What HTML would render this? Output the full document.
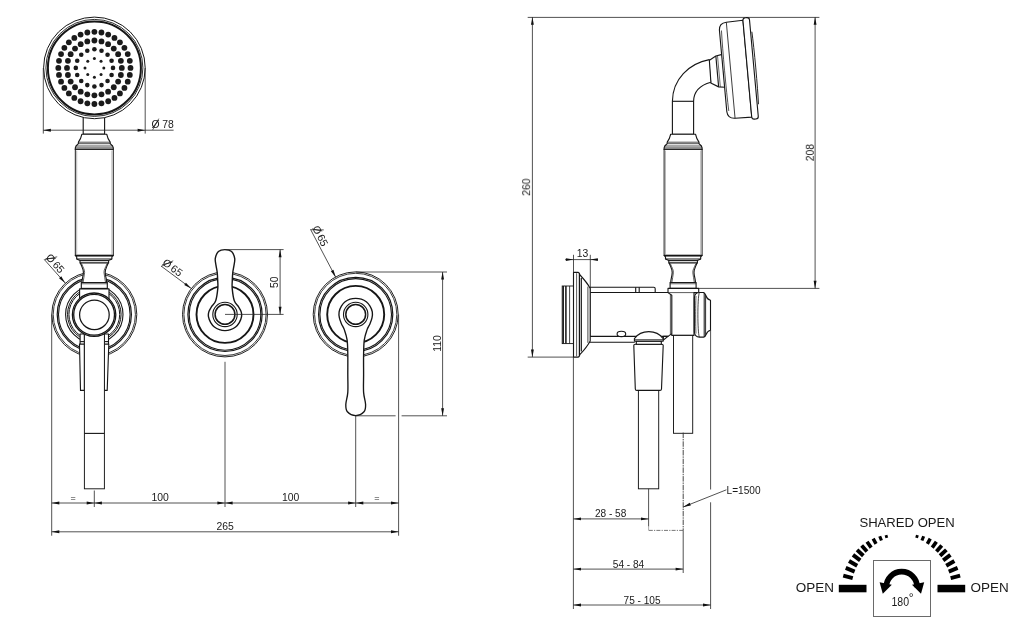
<!DOCTYPE html>
<html><head><meta charset="utf-8"><title>Shower set dimensions</title>
<style>
html,body{margin:0;padding:0;background:#fff;}
body{width:1024px;height:625px;overflow:hidden;}
svg{display:block;}
svg text{font-family:"Liberation Sans",Arial,sans-serif;fill:#1a1a1a;}
</style></head><body>
<svg width="1024" height="625" viewBox="0 0 1024 625">
<defs><filter id="gs" x="0" y="0" width="1024" height="625" filterUnits="userSpaceOnUse"><feColorMatrix type="saturate" values="0"/></filter></defs>
<rect width="1024" height="625" fill="#fff"/>
<circle cx="94.30" cy="314.40" r="42.50" fill="#fff" stroke="#161616" stroke-width="0.95"/>
<circle cx="94.30" cy="314.40" r="41.10" fill="none" stroke="#161616" stroke-width="0.85"/>
<circle cx="94.30" cy="314.40" r="37.10" fill="none" stroke="#161616" stroke-width="1.2"/>
<circle cx="94.30" cy="314.40" r="35.80" fill="none" stroke="#161616" stroke-width="1.1"/>
<circle cx="94.30" cy="314.40" r="28.70" fill="none" stroke="#161616" stroke-width="1.1"/>
<circle cx="94.30" cy="314.40" r="26.80" fill="none" stroke="#161616" stroke-width="1.0"/>
<circle cx="94.30" cy="314.40" r="25.40" fill="none" stroke="#161616" stroke-width="1.0"/>
<circle cx="225.00" cy="314.40" r="42.50" fill="#fff" stroke="#161616" stroke-width="0.95"/>
<circle cx="225.00" cy="314.40" r="41.10" fill="none" stroke="#161616" stroke-width="0.85"/>
<circle cx="225.00" cy="314.40" r="37.10" fill="none" stroke="#161616" stroke-width="1.2"/>
<circle cx="225.00" cy="314.40" r="35.80" fill="none" stroke="#161616" stroke-width="1.1"/>
<circle cx="225.00" cy="314.40" r="28.50" fill="none" stroke="#161616" stroke-width="1.9"/>
<circle cx="355.70" cy="314.40" r="42.50" fill="#fff" stroke="#161616" stroke-width="0.95"/>
<circle cx="355.70" cy="314.40" r="41.10" fill="none" stroke="#161616" stroke-width="0.85"/>
<circle cx="355.70" cy="314.40" r="37.10" fill="none" stroke="#161616" stroke-width="1.2"/>
<circle cx="355.70" cy="314.40" r="35.80" fill="none" stroke="#161616" stroke-width="1.1"/>
<circle cx="355.70" cy="314.40" r="28.50" fill="none" stroke="#161616" stroke-width="1.9"/>
<rect x="83.2" y="112" width="21.4" height="22.2" fill="#fff" stroke="#161616" stroke-width="1.12"/>
<circle cx="94.40" cy="67.90" r="50.80" fill="#fff" stroke="#161616" stroke-width="1.0"/>
<circle cx="94.40" cy="67.90" r="48.50" fill="none" stroke="#161616" stroke-width="0.9"/>
<circle cx="94.40" cy="67.90" r="46.50" fill="none" stroke="#161616" stroke-width="2.0"/>
<circle cx="94.40" cy="31.80" r="2.9" fill="#1b1b1b"/>
<circle cx="101.44" cy="32.49" r="2.9" fill="#1b1b1b"/>
<circle cx="108.21" cy="34.55" r="2.9" fill="#1b1b1b"/>
<circle cx="114.46" cy="37.88" r="2.9" fill="#1b1b1b"/>
<circle cx="119.93" cy="42.37" r="2.9" fill="#1b1b1b"/>
<circle cx="124.42" cy="47.84" r="2.9" fill="#1b1b1b"/>
<circle cx="127.75" cy="54.09" r="2.9" fill="#1b1b1b"/>
<circle cx="129.81" cy="60.86" r="2.9" fill="#1b1b1b"/>
<circle cx="130.50" cy="67.90" r="2.9" fill="#1b1b1b"/>
<circle cx="129.81" cy="74.94" r="2.9" fill="#1b1b1b"/>
<circle cx="127.75" cy="81.71" r="2.9" fill="#1b1b1b"/>
<circle cx="124.42" cy="87.96" r="2.9" fill="#1b1b1b"/>
<circle cx="119.93" cy="93.43" r="2.9" fill="#1b1b1b"/>
<circle cx="114.46" cy="97.92" r="2.9" fill="#1b1b1b"/>
<circle cx="108.21" cy="101.25" r="2.9" fill="#1b1b1b"/>
<circle cx="101.44" cy="103.31" r="2.9" fill="#1b1b1b"/>
<circle cx="94.40" cy="104.00" r="2.9" fill="#1b1b1b"/>
<circle cx="87.36" cy="103.31" r="2.9" fill="#1b1b1b"/>
<circle cx="80.59" cy="101.25" r="2.9" fill="#1b1b1b"/>
<circle cx="74.34" cy="97.92" r="2.9" fill="#1b1b1b"/>
<circle cx="68.87" cy="93.43" r="2.9" fill="#1b1b1b"/>
<circle cx="64.38" cy="87.96" r="2.9" fill="#1b1b1b"/>
<circle cx="61.05" cy="81.71" r="2.9" fill="#1b1b1b"/>
<circle cx="58.99" cy="74.94" r="2.9" fill="#1b1b1b"/>
<circle cx="58.30" cy="67.90" r="2.9" fill="#1b1b1b"/>
<circle cx="58.99" cy="60.86" r="2.9" fill="#1b1b1b"/>
<circle cx="61.05" cy="54.09" r="2.9" fill="#1b1b1b"/>
<circle cx="64.38" cy="47.84" r="2.9" fill="#1b1b1b"/>
<circle cx="68.87" cy="42.37" r="2.9" fill="#1b1b1b"/>
<circle cx="74.34" cy="37.88" r="2.9" fill="#1b1b1b"/>
<circle cx="80.59" cy="34.55" r="2.9" fill="#1b1b1b"/>
<circle cx="87.36" cy="32.49" r="2.9" fill="#1b1b1b"/>
<circle cx="94.40" cy="40.50" r="2.9" fill="#1b1b1b"/>
<circle cx="101.49" cy="41.43" r="2.9" fill="#1b1b1b"/>
<circle cx="108.10" cy="44.17" r="2.9" fill="#1b1b1b"/>
<circle cx="113.77" cy="48.53" r="2.9" fill="#1b1b1b"/>
<circle cx="118.13" cy="54.20" r="2.9" fill="#1b1b1b"/>
<circle cx="120.87" cy="60.81" r="2.9" fill="#1b1b1b"/>
<circle cx="121.80" cy="67.90" r="2.9" fill="#1b1b1b"/>
<circle cx="120.87" cy="74.99" r="2.9" fill="#1b1b1b"/>
<circle cx="118.13" cy="81.60" r="2.9" fill="#1b1b1b"/>
<circle cx="113.77" cy="87.27" r="2.9" fill="#1b1b1b"/>
<circle cx="108.10" cy="91.63" r="2.9" fill="#1b1b1b"/>
<circle cx="101.49" cy="94.37" r="2.9" fill="#1b1b1b"/>
<circle cx="94.40" cy="95.30" r="2.9" fill="#1b1b1b"/>
<circle cx="87.31" cy="94.37" r="2.9" fill="#1b1b1b"/>
<circle cx="80.70" cy="91.63" r="2.9" fill="#1b1b1b"/>
<circle cx="75.03" cy="87.27" r="2.9" fill="#1b1b1b"/>
<circle cx="70.67" cy="81.60" r="2.9" fill="#1b1b1b"/>
<circle cx="67.93" cy="74.99" r="2.9" fill="#1b1b1b"/>
<circle cx="67.00" cy="67.90" r="2.9" fill="#1b1b1b"/>
<circle cx="67.93" cy="60.81" r="2.9" fill="#1b1b1b"/>
<circle cx="70.67" cy="54.20" r="2.9" fill="#1b1b1b"/>
<circle cx="75.03" cy="48.53" r="2.9" fill="#1b1b1b"/>
<circle cx="80.70" cy="44.17" r="2.9" fill="#1b1b1b"/>
<circle cx="87.31" cy="41.43" r="2.9" fill="#1b1b1b"/>
<circle cx="94.40" cy="49.30" r="2.3" fill="#1b1b1b"/>
<circle cx="101.52" cy="50.72" r="2.3" fill="#1b1b1b"/>
<circle cx="107.55" cy="54.75" r="2.3" fill="#1b1b1b"/>
<circle cx="111.58" cy="60.78" r="2.3" fill="#1b1b1b"/>
<circle cx="113.00" cy="67.90" r="2.3" fill="#1b1b1b"/>
<circle cx="111.58" cy="75.02" r="2.3" fill="#1b1b1b"/>
<circle cx="107.55" cy="81.05" r="2.3" fill="#1b1b1b"/>
<circle cx="101.52" cy="85.08" r="2.3" fill="#1b1b1b"/>
<circle cx="94.40" cy="86.50" r="2.3" fill="#1b1b1b"/>
<circle cx="87.28" cy="85.08" r="2.3" fill="#1b1b1b"/>
<circle cx="81.25" cy="81.05" r="2.3" fill="#1b1b1b"/>
<circle cx="77.22" cy="75.02" r="2.3" fill="#1b1b1b"/>
<circle cx="75.80" cy="67.90" r="2.3" fill="#1b1b1b"/>
<circle cx="77.22" cy="60.78" r="2.3" fill="#1b1b1b"/>
<circle cx="81.25" cy="54.75" r="2.3" fill="#1b1b1b"/>
<circle cx="87.28" cy="50.72" r="2.3" fill="#1b1b1b"/>
<circle cx="94.40" cy="58.50" r="1.5" fill="#1b1b1b"/>
<circle cx="101.05" cy="61.25" r="1.5" fill="#1b1b1b"/>
<circle cx="103.80" cy="67.90" r="1.5" fill="#1b1b1b"/>
<circle cx="101.05" cy="74.55" r="1.5" fill="#1b1b1b"/>
<circle cx="94.40" cy="77.30" r="1.5" fill="#1b1b1b"/>
<circle cx="87.75" cy="74.55" r="1.5" fill="#1b1b1b"/>
<circle cx="85.00" cy="67.90" r="1.5" fill="#1b1b1b"/>
<circle cx="87.75" cy="61.25" r="1.5" fill="#1b1b1b"/>
<path d="M81.90,134.2 L106.70,134.2 C107.50,138 108.80,140.5 110.20,142.2 L110.20,143.6 L112.60,146 L113.30,147.9 L113.30,149.4 L75.30,149.4 L75.30,147.9 L76.00,146 L78.40,143.6 L78.40,142.2 C79.80,140.5 81.10,138 81.90,134.2 Z" fill="#fff" stroke="#161616" stroke-width="1.12" stroke-linejoin="round" stroke-linecap="round" />
<line x1="78.40" y1="142.20" x2="110.20" y2="142.20" stroke="#161616" stroke-width="0.75" />
<line x1="78.40" y1="143.70" x2="110.20" y2="143.70" stroke="#161616" stroke-width="0.75" />
<line x1="76.00" y1="146.00" x2="112.60" y2="146.00" stroke="#161616" stroke-width="0.75" />
<line x1="75.30" y1="147.90" x2="113.30" y2="147.90" stroke="#161616" stroke-width="0.75" />
<rect x="75.30" y="149.4" width="38.0" height="106" fill="#fff" stroke="#161616" stroke-width="0.95"/>
<line x1="76.70" y1="150.50" x2="76.70" y2="254.50" stroke="#8a8a8a" stroke-width="0.6" />
<line x1="111.90" y1="150.50" x2="111.90" y2="254.50" stroke="#8a8a8a" stroke-width="0.6" />
<path d="M75.30,255.40 L113.30,255.40 L111.90,256.60 L111.90,259.00 L108.60,260.60 L108.60,263.00 L80.00,263.00 L80.00,260.60 L76.70,259.00 L76.70,256.60 Z" fill="#fff" stroke="#161616" stroke-width="1.12" stroke-linejoin="round" stroke-linecap="round" />
<line x1="75.30" y1="256.30" x2="113.30" y2="256.30" stroke="#161616" stroke-width="0.7" />
<line x1="76.70" y1="259.00" x2="111.90" y2="259.00" stroke="#161616" stroke-width="1.12" />
<line x1="80.00" y1="260.60" x2="108.60" y2="260.60" stroke="#161616" stroke-width="1.12" />
<path d="M80.40,263 C81.80,267 83.50,269 83.40,272.5 C83.30,276 82.00,279 81.90,282.6 L106.70,282.6 C106.60,279 105.30,276 105.20,272.5 C105.10,269 106.80,267 108.20,263 Z" fill="#fff" stroke="#161616" stroke-width="1.12" stroke-linejoin="round" stroke-linecap="round" />
<path d="M81.70,264 C83.00,267.5 84.70,269.5 84.60,272.5 C84.50,276 83.30,279 83.10,282" fill="none" stroke="#161616" stroke-width="0.7" stroke-linejoin="round" stroke-linecap="round" />
<path d="M106.90,264 C105.60,267.5 103.90,269.5 104.00,272.5 C104.10,276 105.30,279 105.50,282" fill="none" stroke="#161616" stroke-width="0.7" stroke-linejoin="round" stroke-linecap="round" />
<rect x="81.30" y="282.6" width="26" height="5.8" fill="#fff" stroke="#161616" stroke-width="1.12"/>
<line x1="81.30" y1="283.80" x2="107.30" y2="283.80" stroke="#161616" stroke-width="0.6" />
<path d="M79.60,288.90 L109.00,288.90 L109.00,330.00 L79.60,330.00 Z" fill="#fff" stroke="#161616" stroke-width="1.12" stroke-linejoin="round" stroke-linecap="round" />
<path d="M79.50,344.00 L84.40,344.00 L84.40,390.40 L80.50,390.40 Z" fill="#fff" stroke="#161616" stroke-width="1.12" stroke-linejoin="round" stroke-linecap="round" />
<path d="M108.80,344.00 L104.40,344.00 L104.40,390.40 L107.20,390.40 Z" fill="#fff" stroke="#161616" stroke-width="1.12" stroke-linejoin="round" stroke-linecap="round" />
<path d="M80.10,334.00 L84.40,334.00 L84.40,344.00 L80.10,344.00 Z" fill="#fff" stroke="#161616" stroke-width="1.12" stroke-linejoin="round" stroke-linecap="round" />
<path d="M108.50,334.00 L104.40,334.00 L104.40,344.00 L108.50,344.00 Z" fill="#fff" stroke="#161616" stroke-width="1.12" stroke-linejoin="round" stroke-linecap="round" />
<line x1="80.10" y1="341.60" x2="84.40" y2="341.60" stroke="#161616" stroke-width="1.12" />
<line x1="108.50" y1="341.60" x2="104.40" y2="341.60" stroke="#161616" stroke-width="1.12" />
<rect x="84.40" y="325" width="20.0" height="163.8" fill="#fff" stroke="#161616" stroke-width="0.95"/>
<line x1="84.40" y1="433.40" x2="104.40" y2="433.40" stroke="#161616" stroke-width="1.12" />
<circle cx="94.10" cy="314.70" r="21.70" fill="#fff" stroke="#161616" stroke-width="1.3"/>
<circle cx="94.10" cy="314.70" r="20.40" fill="none" stroke="#161616" stroke-width="1.3"/>
<circle cx="94.40" cy="314.80" r="14.80" fill="none" stroke="#161616" stroke-width="1.25"/>
<path d="M225.00,249.60 C227.20,249.60 229.98,250.13 231.60,251.60 C233.22,253.07 234.30,256.10 234.70,258.40 C235.10,260.70 234.32,263.07 234.00,265.40 C233.68,267.73 233.08,269.90 232.80,272.40 C232.52,274.90 232.40,277.73 232.30,280.40 C232.20,283.07 231.87,285.00 232.20,288.40 C232.53,291.80 233.23,297.72 234.30,300.80 C235.37,303.88 237.45,305.05 238.60,306.90 C239.75,308.75 240.72,310.23 241.20,311.90 C241.68,313.57 241.82,315.12 241.50,316.90 C241.18,318.68 240.28,320.92 239.30,322.60 C238.32,324.28 237.05,325.82 235.60,327.00 C234.15,328.18 232.37,329.10 230.60,329.70 C228.83,330.30 226.87,330.60 225.00,330.60 C223.13,330.60 221.17,330.30 219.40,329.70 C217.63,329.10 215.85,328.18 214.40,327.00 C212.95,325.82 211.68,324.28 210.70,322.60 C209.72,320.92 208.82,318.68 208.50,316.90 C208.18,315.12 208.32,313.57 208.80,311.90 C209.28,310.23 210.25,308.75 211.40,306.90 C212.55,305.05 214.63,303.88 215.70,300.80 C216.77,297.72 217.47,291.80 217.80,288.40 C218.13,285.00 217.80,283.07 217.70,280.40 C217.60,277.73 217.48,274.90 217.20,272.40 C216.92,269.90 216.32,267.73 216.00,265.40 C215.68,263.07 214.90,260.70 215.30,258.40 C215.70,256.10 216.78,253.07 218.40,251.60 C220.02,250.13 222.80,249.60 225.00,249.60 Z" fill="#fff" stroke="#161616" stroke-width="1.4" stroke-linejoin="round" stroke-linecap="round" />
<circle cx="225.00" cy="314.40" r="12.20" fill="none" stroke="#161616" stroke-width="1.1"/>
<circle cx="225.00" cy="314.40" r="9.90" fill="none" stroke="#161616" stroke-width="1.5"/>
<path d="M355.70,298.30 C357.57,298.30 359.53,298.52 361.30,299.10 C363.07,299.68 364.85,300.62 366.30,301.80 C367.75,302.98 369.00,304.52 370.00,306.20 C371.00,307.88 371.97,309.95 372.30,311.90 C372.63,313.85 372.40,315.90 372.00,317.90 C371.60,319.90 370.73,321.90 369.90,323.90 C369.07,325.90 367.93,327.23 367.00,329.90 C366.07,332.57 364.87,335.82 364.30,339.90 C363.73,343.98 363.72,348.65 363.60,354.40 C363.48,360.15 363.60,368.07 363.60,374.40 C363.60,380.73 363.27,387.40 363.60,392.40 C363.93,397.40 365.53,401.17 365.60,404.40 C365.67,407.63 365.65,409.93 364.00,411.80 C362.35,413.67 358.47,415.60 355.70,415.60 C352.93,415.60 349.05,413.67 347.40,411.80 C345.75,409.93 345.73,407.63 345.80,404.40 C345.87,401.17 347.47,397.40 347.80,392.40 C348.13,387.40 347.80,380.73 347.80,374.40 C347.80,368.07 347.92,360.15 347.80,354.40 C347.68,348.65 347.67,343.98 347.10,339.90 C346.53,335.82 345.33,332.57 344.40,329.90 C343.47,327.23 342.33,325.90 341.50,323.90 C340.67,321.90 339.80,319.90 339.40,317.90 C339.00,315.90 338.77,313.85 339.10,311.90 C339.43,309.95 340.40,307.88 341.40,306.20 C342.40,304.52 343.65,302.98 345.10,301.80 C346.55,300.62 348.33,299.68 350.10,299.10 C351.87,298.52 353.83,298.30 355.70,298.30 Z" fill="#fff" stroke="#161616" stroke-width="1.35" stroke-linejoin="round" stroke-linecap="round" />
<circle cx="355.70" cy="314.40" r="12.20" fill="none" stroke="#161616" stroke-width="1.1"/>
<circle cx="355.70" cy="314.40" r="9.90" fill="none" stroke="#161616" stroke-width="1.5"/>
<line x1="43.30" y1="68.00" x2="43.30" y2="133.60" stroke="#262626" stroke-width="0.8" />
<line x1="145.20" y1="68.00" x2="145.20" y2="133.60" stroke="#262626" stroke-width="0.8" />
<line x1="43.30" y1="130.20" x2="173.60" y2="130.20" stroke="#262626" stroke-width="0.8" />
<polygon points="43.30,130.20 50.90,128.75 50.90,131.65" fill="#111"/>
<polygon points="145.20,130.20 137.60,131.65 137.60,128.75" fill="#111"/>
<line x1="-3.1" y1="5.7" x2="3.1" y2="-5.7" transform="translate(155.70 124.30) rotate(0)" stroke="#262626" stroke-width="0.7"/>
<line x1="44.20" y1="259.40" x2="65.20" y2="283.00" stroke="#262626" stroke-width="0.8" />
<polygon points="65.20,283.00 59.06,278.29 61.23,276.36" fill="#111"/>
<line x1="-3.1" y1="5.7" x2="3.1" y2="-5.7" transform="translate(50.89 258.27) rotate(48.33633670221336)" stroke="#262626" stroke-width="0.7"/>
<line x1="161.00" y1="266.00" x2="191.20" y2="288.40" stroke="#262626" stroke-width="0.8" />
<polygon points="191.20,288.40 184.23,285.04 185.96,282.71" fill="#111"/>
<line x1="-3.1" y1="5.7" x2="3.1" y2="-5.7" transform="translate(167.32 263.53) rotate(36.565135735422935)" stroke="#262626" stroke-width="0.7"/>
<line x1="310.50" y1="229.30" x2="335.70" y2="277.20" stroke="#262626" stroke-width="0.8" />
<polygon points="335.70,277.20 330.88,271.15 333.44,269.80" fill="#111"/>
<line x1="-3.1" y1="5.7" x2="3.1" y2="-5.7" transform="translate(317.26 229.81) rotate(62.25132013019329)" stroke="#262626" stroke-width="0.7"/>
<line x1="225.00" y1="249.60" x2="283.60" y2="249.60" stroke="#262626" stroke-width="0.8" />
<line x1="225.00" y1="314.40" x2="283.60" y2="314.40" stroke="#262626" stroke-width="0.8" />
<line x1="280.10" y1="249.60" x2="280.10" y2="314.40" stroke="#262626" stroke-width="0.8" />
<polygon points="280.10,249.60 281.55,257.20 278.65,257.20" fill="#111"/>
<polygon points="280.10,314.40 278.65,306.80 281.55,306.80" fill="#111"/>
<line x1="355.70" y1="272.00" x2="447.00" y2="272.00" stroke="#262626" stroke-width="0.8" />
<line x1="355.70" y1="415.80" x2="395.60" y2="415.80" stroke="#262626" stroke-width="0.8" />
<line x1="401.60" y1="415.80" x2="447.00" y2="415.80" stroke="#262626" stroke-width="0.8" />
<line x1="442.60" y1="272.00" x2="442.60" y2="415.80" stroke="#262626" stroke-width="0.8" />
<polygon points="442.60,272.00 444.05,279.60 441.15,279.60" fill="#111"/>
<polygon points="442.60,415.80 441.15,408.20 444.05,408.20" fill="#111"/>
<line x1="51.70" y1="314.40" x2="51.70" y2="535.70" stroke="#262626" stroke-width="0.8" />
<line x1="398.60" y1="314.40" x2="398.60" y2="535.70" stroke="#262626" stroke-width="0.8" />
<line x1="94.30" y1="490.50" x2="94.30" y2="507.00" stroke="#262626" stroke-width="0.8" />
<line x1="225.00" y1="361.80" x2="225.00" y2="507.00" stroke="#262626" stroke-width="0.8" />
<line x1="355.70" y1="415.80" x2="355.70" y2="507.00" stroke="#262626" stroke-width="0.8" />
<line x1="51.70" y1="503.00" x2="398.60" y2="503.00" stroke="#262626" stroke-width="0.8" />
<line x1="51.70" y1="531.80" x2="398.60" y2="531.80" stroke="#262626" stroke-width="0.8" />
<polygon points="51.70,503.00 59.30,501.55 59.30,504.45" fill="#111"/>
<polygon points="94.30,503.00 86.70,504.45 86.70,501.55" fill="#111"/>
<polygon points="94.30,503.00 101.90,501.55 101.90,504.45" fill="#111"/>
<polygon points="225.00,503.00 217.40,504.45 217.40,501.55" fill="#111"/>
<polygon points="225.00,503.00 232.60,501.55 232.60,504.45" fill="#111"/>
<polygon points="355.70,503.00 348.10,504.45 348.10,501.55" fill="#111"/>
<polygon points="355.70,503.00 363.30,501.55 363.30,504.45" fill="#111"/>
<polygon points="398.60,503.00 391.00,504.45 391.00,501.55" fill="#111"/>
<polygon points="51.70,531.80 59.30,530.35 59.30,533.25" fill="#111"/>
<polygon points="398.60,531.80 391.00,533.25 391.00,530.35" fill="#111"/>
<line x1="527.70" y1="17.40" x2="819.40" y2="17.40" stroke="#262626" stroke-width="0.8" />
<line x1="532.40" y1="17.20" x2="532.40" y2="357.10" stroke="#262626" stroke-width="0.8" />
<polygon points="532.40,17.20 533.85,24.80 530.95,24.80" fill="#111"/>
<polygon points="532.40,357.10 530.95,349.50 533.85,349.50" fill="#111"/>
<line x1="527.70" y1="357.10" x2="573.40" y2="357.10" stroke="#262626" stroke-width="0.8" />
<line x1="815.10" y1="17.20" x2="815.10" y2="288.40" stroke="#262626" stroke-width="0.8" />
<polygon points="815.10,17.20 816.55,24.80 813.65,24.80" fill="#111"/>
<polygon points="815.10,288.40 813.65,280.80 816.55,280.80" fill="#111"/>
<line x1="698.70" y1="288.40" x2="819.40" y2="288.40" stroke="#262626" stroke-width="0.8" />
<g transform="translate(750.6 68.4) rotate(-5.2)">
<path d="M-41,-11.5 L-33.5,-15.5 L-27,-16.5 L-27,16.5 L-33.5,15.5 L-41,11 Z" fill="#fff" stroke="#161616" stroke-width="1.12" stroke-linejoin="round" stroke-linecap="round" />
<line x1="-33.50" y1="-15.50" x2="-33.50" y2="15.50" stroke="#161616" stroke-width="1.12" />
<line x1="-31.80" y1="-15.80" x2="-31.80" y2="15.80" stroke="#161616" stroke-width="0.6" />
<path d="M-3.2,-48.6 L-20,-48.2 C-25,-48 -27.4,-45.5 -27.6,-41 L-27.6,41 C-27.4,45.5 -25,48 -20,48.2 L-3.2,48.6 Z" fill="#fff" stroke="#161616" stroke-width="1.12" stroke-linejoin="round" stroke-linecap="round" />
<path d="M-25.6,-40 C-26.3,-20 -26.3,20 -25.6,40" fill="none" stroke="#161616" stroke-width="0.7" stroke-linejoin="round" stroke-linecap="round" />
<line x1="-20.00" y1="-48.20" x2="-20.00" y2="48.20" stroke="#161616" stroke-width="0.8" />
<rect x="-3.3" y="-50.9" width="6.6" height="101.8" rx="2.6" ry="2.6" fill="#fff" stroke="#161616" stroke-width="1.12"/>
<path d="M4.6,-36 C5.4,-20 5.4,20 4.6,36" fill="none" stroke="#161616" stroke-width="0.9" stroke-linejoin="round" stroke-linecap="round" />
</g>
<path d="M672.4,134.4 L672.4,101.3 C672.6,79 689,63.5 709.3,59.6 L710.9,82.3 C701,85 693.8,91 693.6,101.3 L693.6,134.4 Z" fill="#fff" stroke="#161616" stroke-width="1.12" stroke-linejoin="round" stroke-linecap="round" />
<line x1="672.40" y1="101.30" x2="693.60" y2="101.30" stroke="#161616" stroke-width="1.12" />
<path d="M670.70,134.2 L695.50,134.2 C696.30,138 697.60,140.5 699.00,142.2 L699.00,143.6 L701.40,146 L702.10,147.9 L702.10,149.4 L664.10,149.4 L664.10,147.9 L664.80,146 L667.20,143.6 L667.20,142.2 C668.60,140.5 669.90,138 670.70,134.2 Z" fill="#fff" stroke="#161616" stroke-width="1.12" stroke-linejoin="round" stroke-linecap="round" />
<line x1="667.20" y1="142.20" x2="699.00" y2="142.20" stroke="#161616" stroke-width="0.75" />
<line x1="667.20" y1="143.70" x2="699.00" y2="143.70" stroke="#161616" stroke-width="0.75" />
<line x1="664.80" y1="146.00" x2="701.40" y2="146.00" stroke="#161616" stroke-width="0.75" />
<line x1="664.10" y1="147.90" x2="702.10" y2="147.90" stroke="#161616" stroke-width="0.75" />
<rect x="664.10" y="149.4" width="38.0" height="106" fill="#fff" stroke="#161616" stroke-width="0.95"/>
<line x1="665.50" y1="150.50" x2="665.50" y2="254.50" stroke="#8a8a8a" stroke-width="0.6" />
<line x1="700.70" y1="150.50" x2="700.70" y2="254.50" stroke="#8a8a8a" stroke-width="0.6" />
<path d="M664.10,255.40 L702.10,255.40 L700.70,256.60 L700.70,259.00 L697.40,260.60 L697.40,263.00 L668.80,263.00 L668.80,260.60 L665.50,259.00 L665.50,256.60 Z" fill="#fff" stroke="#161616" stroke-width="1.12" stroke-linejoin="round" stroke-linecap="round" />
<line x1="664.10" y1="256.30" x2="702.10" y2="256.30" stroke="#161616" stroke-width="0.7" />
<line x1="665.50" y1="259.00" x2="700.70" y2="259.00" stroke="#161616" stroke-width="1.12" />
<line x1="668.80" y1="260.60" x2="697.40" y2="260.60" stroke="#161616" stroke-width="1.12" />
<path d="M669.20,263 C670.60,267 672.30,269 672.20,272.5 C672.10,276 670.80,279 670.70,282.6 L695.50,282.6 C695.40,279 694.10,276 694.00,272.5 C693.90,269 695.60,267 697.00,263 Z" fill="#fff" stroke="#161616" stroke-width="1.12" stroke-linejoin="round" stroke-linecap="round" />
<path d="M670.50,264 C671.80,267.5 673.50,269.5 673.40,272.5 C673.30,276 672.10,279 671.90,282" fill="none" stroke="#161616" stroke-width="0.7" stroke-linejoin="round" stroke-linecap="round" />
<path d="M695.70,264 C694.40,267.5 692.70,269.5 692.80,272.5 C692.90,276 694.10,279 694.30,282" fill="none" stroke="#161616" stroke-width="0.7" stroke-linejoin="round" stroke-linecap="round" />
<rect x="670.10" y="282.6" width="26" height="5.8" fill="#fff" stroke="#161616" stroke-width="1.12"/>
<line x1="670.10" y1="283.80" x2="696.10" y2="283.80" stroke="#161616" stroke-width="0.6" />
<rect x="562.2" y="286" width="11.3" height="57.6" fill="#fff" stroke="#161616" stroke-width="0.9"/>
<line x1="563.20" y1="286.00" x2="563.20" y2="343.60" stroke="#161616" stroke-width="1.5" />
<line x1="565.90" y1="286.00" x2="565.90" y2="343.60" stroke="#161616" stroke-width="1.5" />
<line x1="569.60" y1="286.00" x2="569.60" y2="343.60" stroke="#161616" stroke-width="0.8" />
<path d="M668,292.5 L590,292.5 L590,336.4 L668,336.4" fill="#fff" stroke="#161616" stroke-width="1.12" stroke-linejoin="round" stroke-linecap="round" />
<path d="M590,287.3 L653.8,287.3 Q655.2,287.3 655.2,288.8 L655.2,292.5 L590,292.5 Z" fill="#fff" stroke="#161616" stroke-width="1.12" stroke-linejoin="round" stroke-linecap="round" />
<line x1="635.70" y1="287.30" x2="635.70" y2="292.50" stroke="#161616" stroke-width="1.12" />
<line x1="639.20" y1="287.30" x2="639.20" y2="292.50" stroke="#161616" stroke-width="1.12" />
<path d="M589.5,336.4 L589.5,342.2 L634.3,342.2" fill="none" stroke="#161616" stroke-width="1.12" stroke-linejoin="round" stroke-linecap="round" />
<ellipse cx="621.4" cy="333.9" rx="4.3" ry="2.7" fill="#fff" stroke="#161616" stroke-width="1.12"/>
<path d="M573.5,272.4 L578.2,272.4 C579.3,272.6 579.7,273.6 580.0,275 C583.2,278.4 587.6,283.6 590.2,288.4 L590.2,340.9 C587.6,345.8 583.2,351 580.0,354.4 C579.7,355.8 579.3,356.9 578.2,357.1 L573.5,357.1 Z" fill="#fff" stroke="#161616" stroke-width="1.12" stroke-linejoin="round" stroke-linecap="round" />
<line x1="576.60" y1="273.20" x2="576.60" y2="356.30" stroke="#161616" stroke-width="0.7" />
<line x1="579.40" y1="273.60" x2="579.40" y2="355.80" stroke="#161616" stroke-width="1.2" />
<line x1="581.30" y1="278.00" x2="581.30" y2="351.40" stroke="#161616" stroke-width="1.2" />
<line x1="587.90" y1="286.60" x2="587.90" y2="342.80" stroke="#161616" stroke-width="0.8" />
<line x1="565.20" y1="259.60" x2="598.00" y2="259.60" stroke="#262626" stroke-width="0.8" />
<polygon points="573.50,259.60 565.90,261.05 565.90,258.15" fill="#111"/>
<polygon points="590.30,259.60 597.90,258.15 597.90,261.05" fill="#111"/>
<line x1="573.50" y1="254.80" x2="573.50" y2="272.40" stroke="#262626" stroke-width="0.8" />
<line x1="590.30" y1="254.80" x2="590.30" y2="288.00" stroke="#262626" stroke-width="0.8" />
<path d="M668.00,288.40 L698.70,288.40 L698.70,292.60 L694.00,292.60 L694.00,335.40 L671.80,335.40 L671.80,333.60 L668.00,336.40 L663.40,340.00 L663.40,336.40 L668.00,336.40 L671.80,333.60 L671.80,295.20 L668.00,292.60 Z" fill="#fff" stroke="#161616" stroke-width="1.12" stroke-linejoin="round" stroke-linecap="round" />
<line x1="670.40" y1="294.40" x2="670.40" y2="334.40" stroke="#161616" stroke-width="0.7" />
<line x1="668.00" y1="292.60" x2="694.00" y2="292.60" stroke="#161616" stroke-width="0.7" />
<path d="M694.4,298 C694.5,294.6 696.3,292.5 699.5,292.5 L703.7,292.5 C705,293.2 705.6,294.6 706.2,296.2 C707,298.4 708.4,299.8 710.5,300.2 L710.5,330.2 C708.4,330.6 707,332 706.2,334.2 C705.6,335.8 705,337 703.7,337.1 L699.5,337.1 C696.3,337.1 694.5,335 694.4,331.6 Z" fill="#fff" stroke="#161616" stroke-width="1.12" stroke-linejoin="round" stroke-linecap="round" />
<path d="M696.0,296.5 C695.5,300 695.5,329.6 696.0,333.1" fill="none" stroke="#161616" stroke-width="0.7" stroke-linejoin="round" stroke-linecap="round" />
<path d="M699.2,292.8 C697.4,299 697.4,330.6 699.2,336.8" fill="none" stroke="#161616" stroke-width="0.8" stroke-linejoin="round" stroke-linecap="round" />
<line x1="704.20" y1="292.80" x2="704.20" y2="336.80" stroke="#161616" stroke-width="1.0" />
<line x1="705.60" y1="294.80" x2="705.60" y2="334.90" stroke="#161616" stroke-width="0.9" />
<rect x="673.5" y="335.4" width="19.2" height="97.9" fill="#fff" stroke="#161616" stroke-width="0.95"/>
<rect x="638.4" y="388" width="20.3" height="100.8" fill="#fff" stroke="#161616" stroke-width="0.95"/>
<path d="M633.8,345.6 Q633.8,344.3 635.2,344.3 L661.8,344.3 Q663.2,344.3 663.2,345.6 L661.5,389 Q661.4,390.4 660,390.4 L636.7,390.4 Q635.4,390.4 635.3,389 Z" fill="#fff" stroke="#161616" stroke-width="1.12" stroke-linejoin="round" stroke-linecap="round" />
<rect x="636.3" y="341.1" width="25" height="3.2" fill="#fff" stroke="#161616" stroke-width="1.12"/>
<path d="M634.4,341.1 L634.4,338.6 C638,333.6 644,331.6 648.8,331.6 C653.6,331.6 659.6,333.6 663.2,338.6 L663.2,341.1 Z" fill="#fff" stroke="#161616" stroke-width="1.12" stroke-linejoin="round" stroke-linecap="round" />
<line x1="634.40" y1="339.60" x2="663.20" y2="339.60" stroke="#161616" stroke-width="0.7" />
<line x1="573.40" y1="357.10" x2="573.40" y2="609.00" stroke="#262626" stroke-width="0.8" />
<line x1="710.60" y1="330.00" x2="710.60" y2="489.50" stroke="#262626" stroke-width="0.8" />
<line x1="710.60" y1="502.30" x2="710.60" y2="609.00" stroke="#262626" stroke-width="0.8" />
<line x1="648.60" y1="488.80" x2="648.60" y2="526.50" stroke="#262626" stroke-width="0.8" />
<line x1="648.60" y1="526.50" x2="648.60" y2="530.40" stroke="#888" stroke-width="0.7" />
<line x1="683.20" y1="530.40" x2="683.20" y2="573.00" stroke="#262626" stroke-width="0.8" />
<path d="M683.2,432.6 L683.2,530.4" fill="none" stroke="#333" stroke-width="0.9" stroke-dasharray="5.5 0.9 1.4 0.9"/>
<path d="M683.2,530.4 L648.6,530.4" fill="none" stroke="#555" stroke-width="0.8" stroke-dasharray="4 1.2 1.2 1.2"/>
<line x1="573.40" y1="518.90" x2="648.60" y2="518.90" stroke="#262626" stroke-width="0.8" />
<polygon points="573.40,518.90 581.00,517.45 581.00,520.35" fill="#111"/>
<polygon points="648.60,518.90 641.00,520.35 641.00,517.45" fill="#111"/>
<line x1="573.40" y1="569.10" x2="683.20" y2="569.10" stroke="#262626" stroke-width="0.8" />
<polygon points="573.40,569.10 581.00,567.65 581.00,570.55" fill="#111"/>
<polygon points="683.20,569.10 675.60,570.55 675.60,567.65" fill="#111"/>
<line x1="573.40" y1="605.00" x2="710.60" y2="605.00" stroke="#262626" stroke-width="0.8" />
<polygon points="573.40,605.00 581.00,603.55 581.00,606.45" fill="#111"/>
<polygon points="710.60,605.00 703.00,606.45 703.00,603.55" fill="#111"/>
<line x1="726.40" y1="489.80" x2="683.20" y2="507.00" stroke="#262626" stroke-width="0.8" />
<polygon points="683.20,507.00 689.72,502.84 690.80,505.54" fill="#111"/>
<rect x="873.5" y="560.5" width="57" height="56" fill="#fff" stroke="#6a6a6a" stroke-width="1"/>
<rect x="838.8" y="584.8" width="27.7" height="7.5" fill="#000"/>
<rect x="937.5" y="584.8" width="27.7" height="7.5" fill="#000"/>
<path d="M886.20,587.20 A15.5,15.5 0 0 1 917.20,587.20" fill="none" stroke="#000" stroke-width="5.7"/>
<polygon points="882.8,593.8 879.6,582.2 891.8,584.8" fill="#000"/>
<polygon points="921.0,593.8 924.2,582.2 912.0,584.8" fill="#000"/>
<line x1="852.74" y1="578.14" x2="843.26" y2="575.66" stroke="#000" stroke-width="4.0"/>
<line x1="950.66" y1="578.14" x2="960.14" y2="575.66" stroke="#000" stroke-width="4.0"/>
<line x1="854.64" y1="571.53" x2="845.76" y2="567.87" stroke="#000" stroke-width="4.0"/>
<line x1="948.76" y1="571.53" x2="957.64" y2="567.87" stroke="#000" stroke-width="4.0"/>
<line x1="857.19" y1="565.72" x2="849.01" y2="561.08" stroke="#000" stroke-width="4.0"/>
<line x1="946.21" y1="565.72" x2="954.39" y2="561.08" stroke="#000" stroke-width="4.0"/>
<line x1="860.22" y1="560.28" x2="852.98" y2="554.92" stroke="#000" stroke-width="4.0"/>
<line x1="943.18" y1="560.28" x2="950.42" y2="554.92" stroke="#000" stroke-width="4.0"/>
<line x1="863.36" y1="555.71" x2="857.04" y2="549.89" stroke="#000" stroke-width="3.9"/>
<line x1="940.04" y1="555.71" x2="946.36" y2="549.89" stroke="#000" stroke-width="3.9"/>
<line x1="866.94" y1="551.50" x2="861.66" y2="545.50" stroke="#000" stroke-width="3.8"/>
<line x1="936.46" y1="551.50" x2="941.74" y2="545.50" stroke="#000" stroke-width="3.8"/>
<line x1="871.17" y1="547.64" x2="867.03" y2="541.76" stroke="#000" stroke-width="3.6"/>
<line x1="932.23" y1="547.64" x2="936.37" y2="541.76" stroke="#000" stroke-width="3.6"/>
<line x1="876.04" y1="543.93" x2="873.16" y2="538.67" stroke="#000" stroke-width="3.4"/>
<line x1="927.36" y1="543.93" x2="930.24" y2="538.67" stroke="#000" stroke-width="3.4"/>
<line x1="881.46" y1="540.53" x2="879.74" y2="536.27" stroke="#000" stroke-width="3.1"/>
<line x1="921.94" y1="540.53" x2="923.66" y2="536.27" stroke="#000" stroke-width="3.1"/>
<line x1="886.81" y1="537.94" x2="885.99" y2="535.06" stroke="#000" stroke-width="2.8"/>
<line x1="916.59" y1="537.94" x2="917.41" y2="535.06" stroke="#000" stroke-width="2.8"/>
<g filter="url(#gs)">
<text x="151.60" y="128.10" font-size="10.4" text-anchor="start" >Ø<tspan dx="2.5">78</tspan></text>
<text x="45.32" y="257.73" font-size="10.6" text-anchor="start" transform="rotate(48.3 45.32 257.73)" >Ø<tspan dx="1.7">65</tspan></text>
<text x="161.76" y="264.14" font-size="10.6" text-anchor="start" transform="rotate(36.6 161.76 264.14)" >Ø<tspan dx="1.7">65</tspan></text>
<text x="311.99" y="227.95" font-size="10.6" text-anchor="start" transform="rotate(62.3 311.99 227.95)" >Ø<tspan dx="1.7">65</tspan></text>
<text x="278.00" y="282.20" font-size="10.4" text-anchor="middle" transform="rotate(-90 278.00 282.20)" >50</text>
<text x="440.50" y="343.50" font-size="10.4" text-anchor="middle" transform="rotate(-90 440.50 343.50)" >110</text>
<text x="160.10" y="500.90" font-size="10.4" text-anchor="middle" >100</text>
<text x="290.60" y="500.90" font-size="10.4" text-anchor="middle" >100</text>
<text x="225.10" y="529.50" font-size="10.4" text-anchor="middle" >265</text>
<text x="73.20" y="500.70" font-size="9" text-anchor="middle" >=</text>
<text x="376.80" y="500.70" font-size="9" text-anchor="middle" >=</text>
<text x="530.20" y="187.10" font-size="10.4" text-anchor="middle" transform="rotate(-90 530.20 187.10)" >260</text>
<text x="813.40" y="152.60" font-size="10.4" text-anchor="middle" transform="rotate(-90 813.40 152.60)" >208</text>
<text x="582.50" y="257.30" font-size="10.4" text-anchor="middle" >13</text>
<text x="610.60" y="516.60" font-size="10.1" text-anchor="middle" >28 - 58</text>
<text x="628.50" y="567.80" font-size="10.1" text-anchor="middle" >54 - 84</text>
<text x="642.10" y="603.70" font-size="10.1" text-anchor="middle" >75 - 105</text>
<text x="726.60" y="494.30" font-size="10.1" text-anchor="start" >L=1500</text>
<text x="907.10" y="526.70" font-size="12.4" text-anchor="middle" textLength="95.4" lengthAdjust="spacingAndGlyphs">SHARED OPEN</text>
<text x="814.90" y="591.70" font-size="12.4" text-anchor="middle" textLength="38.2" lengthAdjust="spacingAndGlyphs">OPEN</text>
<text x="989.70" y="591.70" font-size="12.4" text-anchor="middle" textLength="38.2" lengthAdjust="spacingAndGlyphs">OPEN</text>
<text x="900.30" y="605.60" font-size="12.3" text-anchor="middle" textLength="17.6" lengthAdjust="spacingAndGlyphs">180</text>
<text x="908.70" y="601.70" font-size="12.3" text-anchor="start" >°</text>
</g>
</svg>
</body></html>
